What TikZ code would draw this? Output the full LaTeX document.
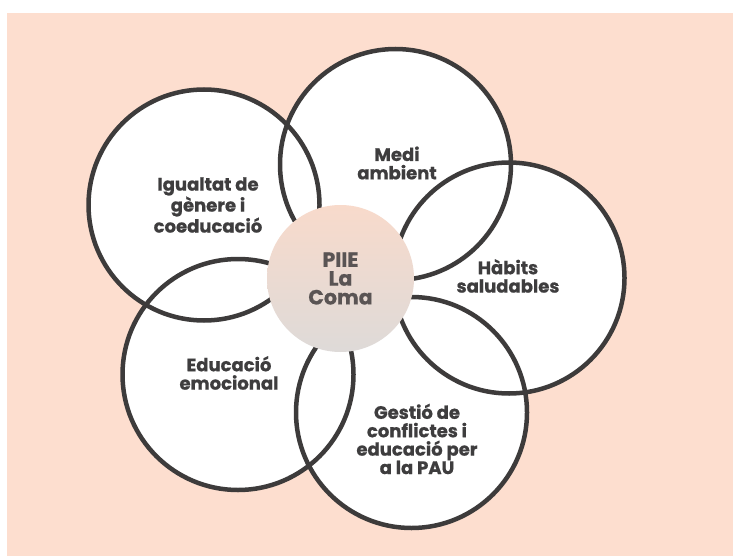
\documentclass[tikz,border=0pt]{standalone}
\usepackage{fontspec}
\setmainfont{Poppins}[BoldFeatures={FakeBold=0.8}]
\usetikzlibrary{calc}
\usepackage{xcolor}

\definecolor{peach}{HTML}{FDDECF}
\definecolor{ringgrey}{HTML}{3D3B3B}
\definecolor{textgrey}{HTML}{3E3D3E}
\definecolor{hubtext}{HTML}{5A5454}
\definecolor{hubtop}{HTML}{F8DACB}
\definecolor{hubbottom}{HTML}{DEDAD8}

\tikzset{
  petal/.style={circle, fill=white, minimum size=231pt, inner sep=0pt},
  ring/.style={ringgrey, line width=4.5pt},
  petaltext/.style={align=center, text=textgrey, font=\fontsize{18}{18.4}\selectfont\bfseries},
  hub/.style={circle, minimum size=147pt, inner sep=0pt, top color=hubtop, bottom color=hubbottom,
    text=hubtext, align=center, font=\fontsize{20.5}{18.8}\selectfont\bfseries}
}

\begin{document}
\begin{tikzpicture}[x=1pt,y=-1pt]
\useasboundingbox (0,0) rectangle (733,556);
\fill[white] (0,0) rectangle (733,556);
\fill[peach] (7,13) rectangle (733,556);

% petals, white first, rings after
\node[petal] (medi) at (395.5,164.5) {};
\node[petal] (igualtat) at (204,205) {};
\node[petal] (habits) at (509,278) {};
\node[petal] (gestio) at (411.5,412.5) {};
\node[petal] (emocio) at (238,374.5) {};
\foreach \p in {medi,igualtat,habits,gestio,emocio}
  \draw[ring] (\p.center) circle (115.5pt);

% labels
\node[petaltext] (t-medi) at (397,163) {Medi\\ambient};
\node[petaltext] (t-igualtat) at (208,205) {Igualtat de\\gènere i\\coeducació};
\node[petaltext] (t-habits) at (508,276) {Hàbits\\saludables};
\node[petaltext] (t-emocio) at (229,373) {Educació\\emocional};
\node[petaltext] (t-gestio) at (417,439) {Gestió de\\conflictes i\\educació per\\a la PAU};

\node[hub] (piie) at (340.5,278.5) {PIIE\\La\\Coma};
\end{tikzpicture}
\end{document}
